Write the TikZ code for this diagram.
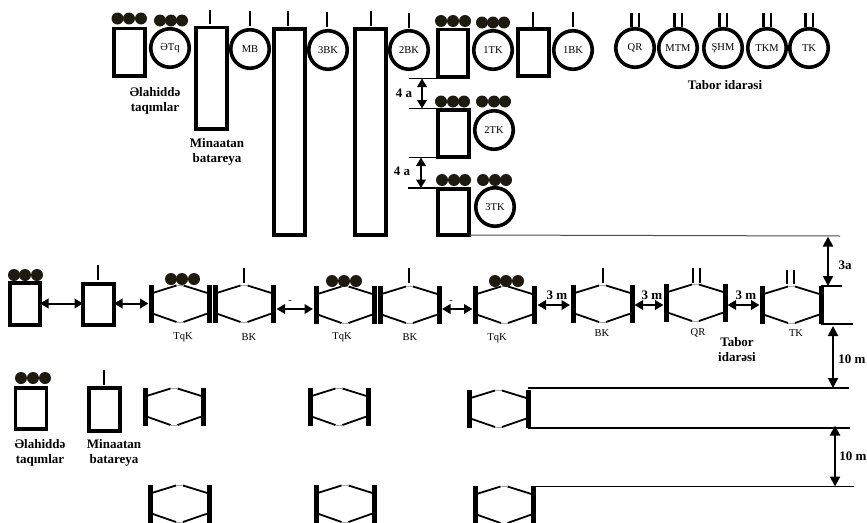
\documentclass[tikz,border=0pt]{standalone}
\usepackage{fontspec}
\setmainfont{Liberation Serif}
\usetikzlibrary{arrows.meta}
\definecolor{dotc}{HTML}{1F1A10}
\tikzset{
  boxn/.style={draw=black,line width=3.7pt,fill=white,inner sep=0pt,outer sep=0pt,shape=rectangle},
  circn/.style={draw=black,line width=3.6pt,fill=white,circle,inner sep=0pt,minimum size=38.5pt,font=\fontsize{10.5}{12}\selectfont},
  dotn/.style={fill=dotc,circle,inner sep=0pt,minimum size=12pt},
  solid bar/.style={fill=black,inner sep=0pt,outer sep=0pt,shape=rectangle},
  hexline/.style={line width=1.8pt,black},
  hexgap/.style={line width=.5pt,black!35},
  dim/.style={line width=2pt,{Triangle[length=8.5pt,width=9.5pt]}-{Triangle[length=8.5pt,width=9.5pt]}},
  dimv/.style={line width=2pt,{Triangle[length=10pt,width=10pt]}-{Triangle[length=10pt,width=10pt]}},
  rule/.style={line width=1.8pt,black},
  thin rule/.style={line width=1pt,black!70},
  blab/.style={font=\fontsize{13}{15}\selectfont\bfseries,inner sep=0pt,align=center},
  lab/.style={font=\fontsize{10.5}{12}\selectfont,inner sep=0pt},
}
\newcommand{\rbox}[5]{\node[boxn,minimum width={(#4)-(#2)},minimum height={(#5)-(#3)}] (#1) at ({((#2)+(#4))/2},{((#3)+(#5))/2}) {};}
\newcommand{\sbar}[5]{\node[solid bar,minimum width={(#4)-(#2)},minimum height={(#5)-(#3)}] (#1) at ({((#2)+(#4))/2},{((#3)+(#5))/2}) {};}
\newcommand{\tick}[4]{\sbar{#1}{#2-1.3}{#3}{#2+1.3}{#4}}
\newcommand{\tridots}[5]{\node[dotn] (#1a) at (#2,#5) {};\node[dotn] (#1b) at (#3,#5) {};\node[dotn] (#1c) at (#4,#5) {};}
% hexagon: name, left x, right x, top y, bottom y
\newcommand{\hexa}[5]{%
  \sbar{#1-l}{#2-2.5}{#4}{#2+2.5}{#5}
  \sbar{#1-r}{#3-2.5}{#4}{#3+2.5}{#5}
  \coordinate (#1-t) at ({((#2)+(#3))/2},{#4+.5});
  \coordinate (#1-b) at ({((#2)+(#3))/2},{#5-1});
  \draw[hexline] (#1-l.center |- 0,{#4+8.5}) -- ([xshift=-3.5pt]#1-t);
  \draw[hexline] ([xshift=3.5pt]#1-t) -- (#1-r.center |- 0,{#4+8.5});
  \draw[hexline] (#1-l.center |- 0,{#5-10}) -- ([xshift=-3.5pt]#1-b);
  \draw[hexline] ([xshift=3.5pt]#1-b) -- (#1-r.center |- 0,{#5-10});
  \draw[hexgap] ([xshift=-3.5pt]#1-t) -- ([xshift=3.5pt]#1-t);
  \draw[hexgap] ([xshift=-3.5pt]#1-b) -- ([xshift=3.5pt]#1-b);
}
\begin{document}
\begin{tikzpicture}[x=1pt,y=-1pt]
\useasboundingbox (0,0) rectangle (867,522);
% ---- top row
\rbox{a1}{114}{28.5}{145}{76}
\tridots{d1}{117.5}{129}{141}{18.5}
\node[circn] (c1) at (170,48) {ƏTq};
\tridots{d2}{160}{171}{182}{20.5}
\rbox{a2}{196}{27.5}{227}{129}
\tick{t2}{210}{10}{24}
\node[circn] (c2) at (250,49) {MB};
\tick{t3}{250}{11}{26}
\rbox{a3}{274}{29}{305}{235}
\tick{t4}{288}{11}{26}
\node[circn] (c3) at (328,50) {3BK};
\tick{t5}{327}{12}{27}
\rbox{a4}{355}{29}{386}{235}
\tick{t6}{371}{11}{26}
\node[circn] (c4) at (409,50) {2BK};
\tick{t7}{409}{13}{28}
\rbox{a5}{438}{29.5}{468}{77}
\tridots{d3}{441}{453}{465}{21}
\node[circn] (c5) at (493,50) {1TK};
\tridots{d4}{482}{493}{504}{22.5}
\rbox{a6}{518}{29}{549}{76}
\tick{t8}{533}{12}{27}
\node[circn] (c6) at (573,50) {1BK};
\tick{t9}{573}{12}{27}
% second, third platoons
\rbox{a7}{438}{110}{469}{157}
\tridots{d5}{441}{453}{464}{101.5}
\node[circn] (c7) at (494,130) {2TK};
\tridots{d6}{482}{494}{505}{101.5}
\rbox{a8}{438}{189}{469}{235}
\tridots{d7}{442}{454}{465}{180}
\node[circn] (c8) at (495,207) {3TK};
\tridots{d8}{483}{495}{506}{180}
% 4 a dimensions
\coordinate (m1) at (409,78.5);
\coordinate (m2) at (409,108.5);
\coordinate (m3) at (409,157.5);
\coordinate (m4) at (408,188);
\draw[rule] (m1) -- (m1 -| a5.west);
\draw[rule] (m2) -- (m2 -| a7.west);
\draw[rule] (m3) -- (m3 -| a7.west);
\draw[rule] (m4) -- (m4 -| a8.west);
\coordinate (p1) at (422,78.5);\coordinate (p2) at (422,108.5);
\coordinate (p3) at (421,157.5);\coordinate (p4) at (421,188);
\draw[dim] (p1) -- (p2);
\draw[dim] (p3) -- (p4);
\node[blab] (l4a) at (404,93) {4 a};
\node[blab] (l4b) at (402,171) {4 a};
% labels
\node[blab] (l1) at (155,101) {Əlahiddə\\taqımlar};
\node[blab] (l2) at (217,151.5) {Minaatan\\batareya};
% Tabor
\foreach \n/\x/\t in {e1/635/QR,e2/678/MTM,e3/723/ŞHM,e4/767/TKM,e5/809/TK}{
  \node[circn] (\n) at (\x,48) {\t};
  \tick{\n-p}{\x-3.8}{13}{27}
  \tick{\n-q}{\x+3.8}{13}{27}
}
\node[blab] (l3) at (725,85) {Tabor idarəsi};
% ---- middle row
\rbox{b1}{10}{283}{40}{325}
\tridots{d9}{14}{25}{37}{275}
\rbox{b2}{83}{284}{114}{325}
\tick{t10}{98}{265}{280}
\hexa{h1}{151}{209}{285}{323}
\tridots{d10}{171}{182}{194}{279}
\hexa{h2}{215}{273}{285}{323}
\tick{t11}{244}{268}{283}
\hexa{h3}{316}{374}{286}{324}
\tridots{d11}{332}{344}{356}{281}
\hexa{h4}{380}{439}{286}{324}
\tick{t12}{409}{268}{283}
\hexa{h5}{475}{534}{286}{324}
\tridots{d12}{495}{506}{518}{281}
\hexa{h6}{573}{632}{285}{323}
\tick{t13}{603}{268}{283}
\hexa{h7}{666}{725}{284}{322}
\tick{t14}{693}{268}{283}
\tick{t15}{700}{268}{283}
\hexa{h8}{762}{821}{286}{324}
\tick{t16}{787}{270}{284}
\tick{t17}{794}{270}{284}
\foreach \n/\x/\y/\t in {q1/183/337/TqK,q2/249/337/BK,q3/342/337/TqK,q4/410/337/BK,q5/497/338/TqK,q6/602/333/BK,q7/698/333/QR,q8/796/333/TK}{
  \node[lab] (\n) at (\x,\y) {\t};
}
\node[blab] (l5) at (737,350) {Tabor\\idarəsi};
% connectors of middle row
\draw[dim] (b1.east |- 0,303.5) -- (b2.west |- 0,303.5);
\draw[dim] (b2.east |- 0,303.5) -- (h1-l.west |- 0,303.5);
\draw[dim] ([xshift=1pt]h2-r.east |- 0,309) -- ([xshift=-.5pt]h3-l.west |- 0,309);
\draw[dim] ([xshift=.5pt]h4-r.east |- 0,309) -- (h5-l.west |- 0,309);
\draw[dim] ([xshift=1pt]h5-r.east |- 0,305) -- ([xshift=-.5pt]h6-l.west |- 0,305);
\draw[dim] (h6-r.east |- 0,305) -- (h7-l.west |- 0,305);
\draw[dim] (h7-r.east |- 0,305) -- (h8-l.west |- 0,305);
\node[lab] (s1) at (290,302) {-};
\node[lab] (s2) at (451,302) {-};
\node[blab] (w1) at (557,295) {3 m};
\node[blab] (w2) at (652,295) {3 m};
\node[blab] (w3) at (746,295) {3 m};
% right column
\coordinate (r0) at (840,236);
\draw[thin rule] (a8.south east) -- (r0);
\coordinate (r1) at (842,287);
\coordinate (r2) at (853,325);
\draw[rule] (h8-r.north) -- (h8-r.north -| r1);
\draw[rule] (h8-r.south) -- (h8-r.south -| r2);
\coordinate (v0) at (828,236.5);\coordinate (v1) at (828,286);
\draw[dimv] (v0) -- (v1);
\node[blab] (l6) at (845,265) {3a};
\coordinate (v2) at (833,326);\coordinate (v3) at (833,388);
\draw[dimv] (v2) -- (v3);
\node[blab] (l7) at (852,359) {10 m};
% ---- lower rows
\rbox{g1}{15.5}{388}{46.5}{429}
\tridots{d13}{21}{33}{45}{378}
\rbox{g2}{89}{388}{120}{431}
\tick{t18}{104}{370}{385}
\node[blab] (l8) at (40,453) {Əlahiddə\\taqımlar};
\node[blab] (l9) at (114,453) {Minaatan\\batareya};
\hexa{k1}{145}{203}{388}{426}
\hexa{k2}{310}{368}{388}{426}
\hexa{k3}{469}{528}{390}{428}
\hexa{k4}{150}{209}{485}{523}
\hexa{k5}{316}{374}{485}{523}
\hexa{k6}{475}{533}{486}{524}
\coordinate (r3) at (849,388);
\coordinate (r4) at (850,425.5);
\coordinate (r5) at (854,486.5);
\draw[rule] (k3-r.north |- r3) -- (r3);
\draw[rule] (k3-r.south) -- (k3-r.south -| r4);
\draw[rule] (k6-r.north |- r5) -- (r5);
\coordinate (v4) at (835,425.5);\coordinate (v5) at (835,486.5);
\draw[dimv] (v4) -- (v5);
\node[blab] (l10) at (853,456) {10 m};
\end{tikzpicture}
\end{document}
